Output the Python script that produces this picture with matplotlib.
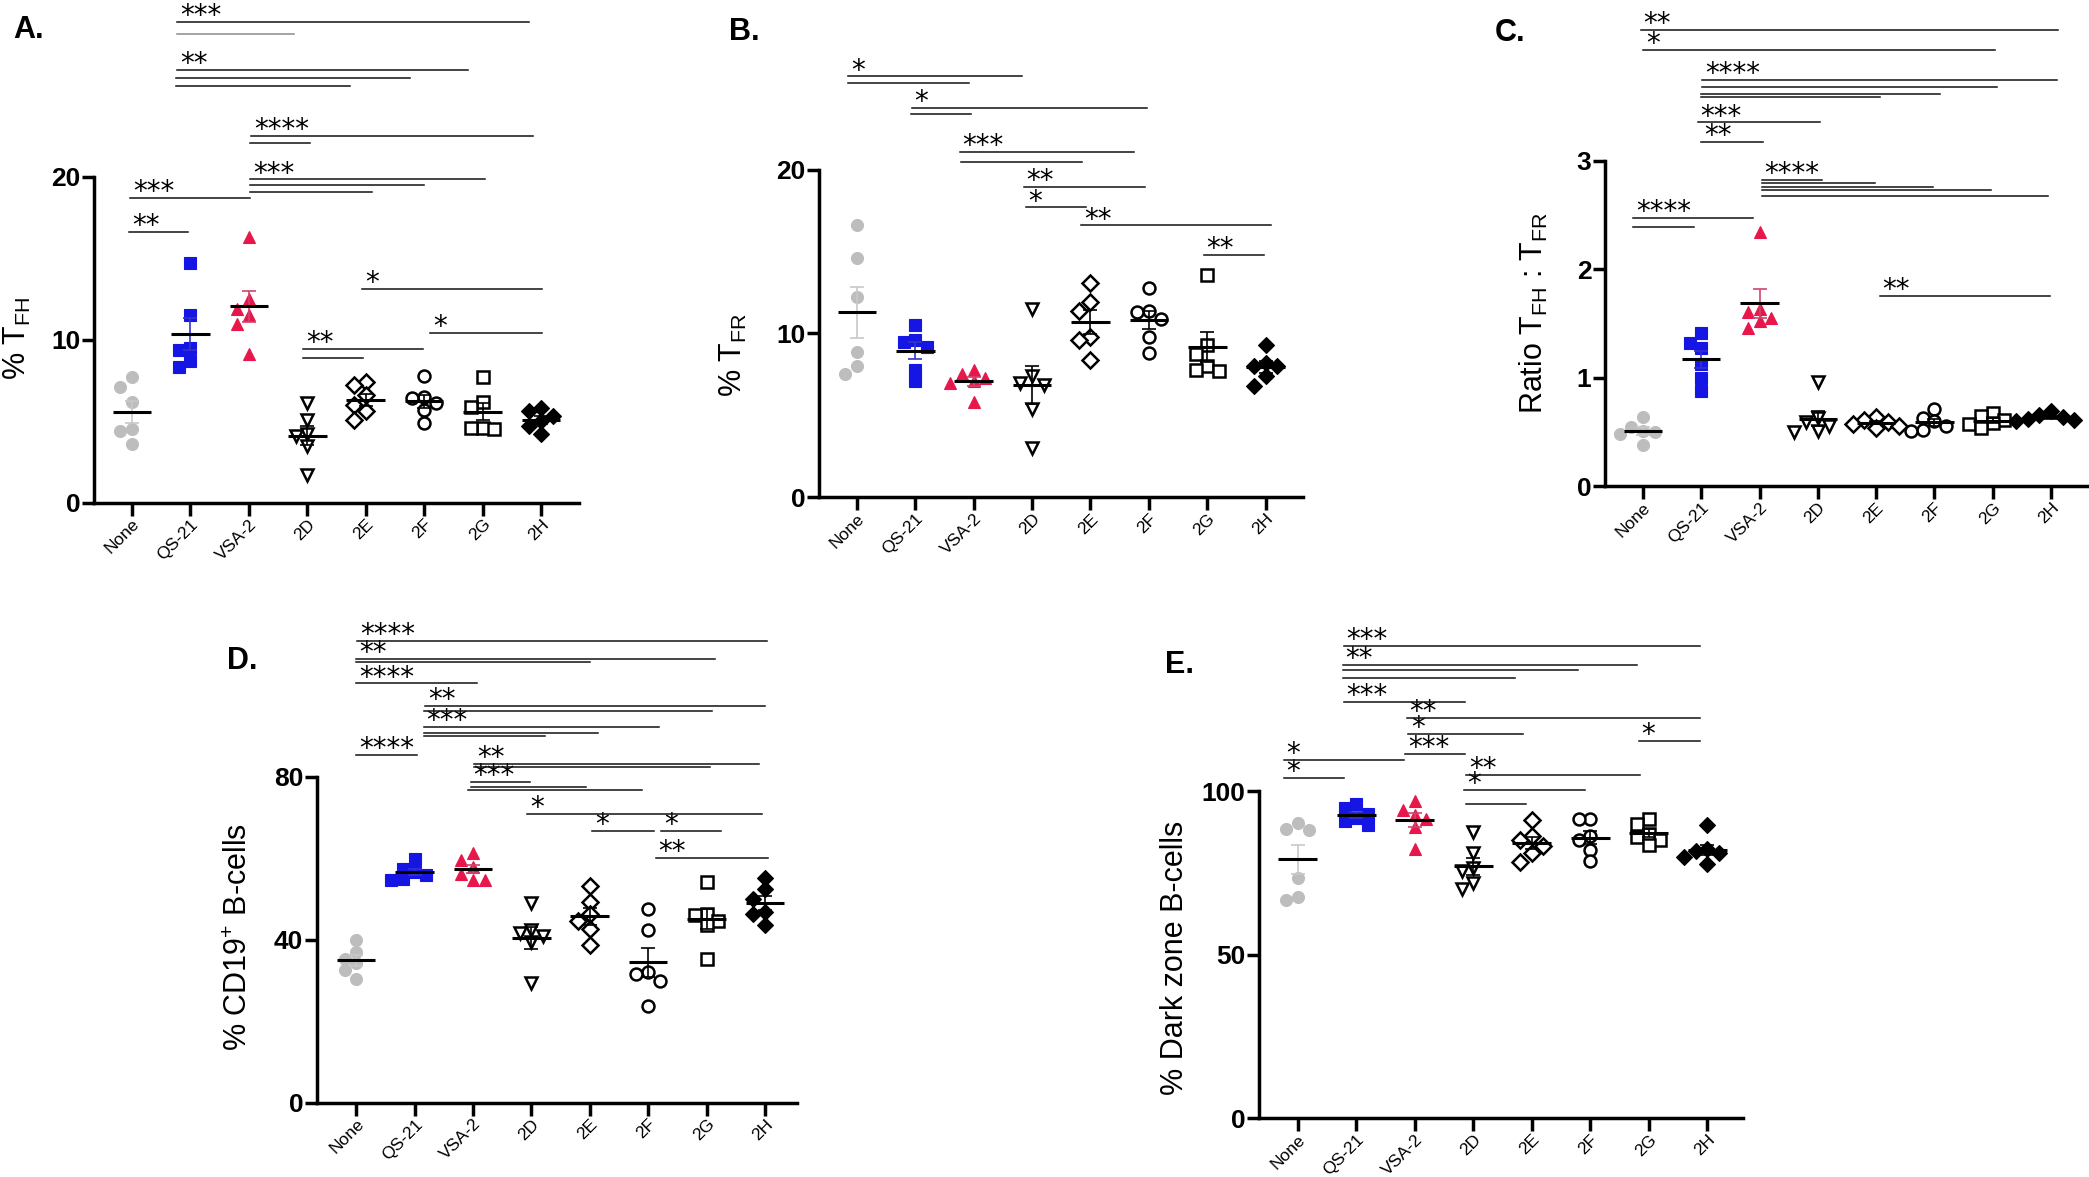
import numpy as np
import matplotlib
matplotlib.use('Agg')
import matplotlib.pyplot as plt

plt.rcParams['font.family'] = ['Liberation Sans', 'DejaVu Sans']
plt.rcParams['mathtext.fontset'] = 'custom'
plt.rcParams['mathtext.rm'] = 'Liberation Sans'
plt.rcParams['mathtext.it'] = 'Liberation Sans:italic'
plt.rcParams['mathtext.bf'] = 'Liberation Sans:bold'

groups = ['None', 'QS-21', 'VSA-2', '2D', '2E', '2F', '2G', '2H']

# valeurs (6 souris par groupe)
tfh_values = [
    [7.7, 7.1, 6.2, 4.5, 4.4, 3.6],
    [14.7, 11.5, 9.5, 9.4, 8.7, 8.3],
    [16.3, 12.5, 11.9, 11.5, 11.0, 9.1],
    [6.1, 5.1, 4.2, 4.1, 3.5, 1.7],
    [7.4, 7.2, 6.6, 6.0, 5.6, 5.1],
    [7.8, 6.5, 6.4, 6.1, 5.7, 4.9],
    [7.7, 6.2, 5.9, 4.6, 4.6, 4.5],
    [5.8, 5.6, 5.3, 5.0, 4.7, 4.2],
]
tfr_values = [
    [16.6, 14.6, 12.2, 8.85, 8.0, 7.5],
    [10.5, 9.6, 9.5, 9.2, 7.8, 7.1],
    [7.8, 7.5, 7.3, 7.1, 7.0, 5.8],
    [11.5, 7.4, 7.0, 6.85, 5.4, 3.0],
    [13.1, 11.9, 11.4, 9.8, 9.6, 8.4],
    [12.8, 11.4, 11.3, 10.9, 9.8, 8.8],
    [13.6, 9.3, 8.75, 8.0, 7.8, 7.7],
    [9.3, 8.2, 8.0, 8.0, 7.4, 6.8],
]
ratio_values = [
    [0.64, 0.55, 0.51, 0.50, 0.48, 0.38],
    [1.41, 1.32, 1.27, 1.13, 1.0, 0.88],
    [2.34, 1.63, 1.61, 1.55, 1.52, 1.46],
    [0.96, 0.63, 0.59, 0.56, 0.51, 0.50],
    [0.64, 0.61, 0.59, 0.57, 0.56, 0.54],
    [0.71, 0.63, 0.60, 0.56, 0.52, 0.51],
    [0.68, 0.65, 0.61, 0.58, 0.57, 0.54],
    [0.69, 0.66, 0.64, 0.62, 0.61, 0.60],
]
cd19_values = [
    [40.0, 37.0, 35.3, 34.4, 32.6, 30.3],
    [59.8, 57.5, 56.6, 55.9, 55.0, 54.8],
    [61.2, 59.5, 58.0, 56.2, 54.8, 54.6],
    [49.0, 42.3, 41.6, 40.9, 39.5, 29.3],
    [53.3, 49.2, 46.4, 44.6, 42.7, 38.6],
    [47.5, 42.3, 32.1, 31.6, 29.8, 23.8],
    [54.3, 46.4, 46.0, 44.6, 43.7, 35.3],
    [55.2, 52.4, 50.1, 46.9, 46.4, 43.6],
]
darkzone_values = [
    [90.4, 88.5, 88.1, 73.5, 67.7, 66.6],
    [96.0, 94.8, 93.1, 91.9, 90.8, 89.6],
    [97.1, 94.2, 92.75, 91.4, 89.1, 82.4],
    [87.4, 81.0, 76.4, 75.5, 71.8, 70.0],
    [91.1, 86.2, 85.0, 83.3, 81.2, 78.5],
    [91.6, 91.4, 86.2, 85.0, 82.1, 78.7],
    [91.4, 90.0, 87.0, 85.9, 85.0, 83.5],
    [89.6, 82.4, 81.6, 81.0, 79.9, 77.8],
]

# barres de significativite : (debut, fin, hauteur, etoiles)
tfh_bars = [
    (0.77, 6.80, 29.5, '***'), (0.77, 2.77, 28.8, ''), (0.77, 5.75, 26.6, '**'),
    (0.75, 4.76, 26.1, ''), (0.75, 3.73, 25.6, ''), (2.04, 6.87, 22.5, '****'),
    (2.02, 3.05, 22.1, ''), (2.02, 6.04, 19.85, '***'), (2.02, 5.0, 19.5, ''),
    (2.02, 4.1, 19.1, ''), (-0.03, 2.02, 18.7, '***'), (-0.05, 0.96, 16.6, '**'),
    (3.94, 7.02, 13.1, '*'), (5.1, 7.02, 10.4, '*'), (2.93, 4.98, 9.43, '**'),
    (2.93, 3.96, 8.9, ''),
]
tfr_bars = [
    (-0.15, 2.83, 25.7, '*'), (-0.15, 1.92, 25.3, ''), (0.94, 4.97, 23.8, '*'),
    (0.92, 1.95, 23.4, ''), (1.76, 4.74, 21.1, '***'), (1.79, 3.85, 20.5, ''),
    (2.86, 4.93, 18.95, '**'), (2.89, 3.92, 17.7, '*'), (3.84, 7.1, 16.6, '**'),
    (5.94, 6.97, 14.8, '**'),
]
ratio_bars = [
    (-0.04, 7.12, 4.20, '**'), (0.0, 6.04, 4.02, '*'), (1.02, 7.1, 3.74, '****'),
    (1.02, 6.07, 3.68, ''), (1.0, 5.09, 3.61, ''), (1.0, 4.06, 3.58, ''),
    (0.94, 3.03, 3.35, '***'), (1.0, 2.06, 3.17, '**'), (2.04, 3.08, 2.82, '****'),
    (2.04, 3.99, 2.79, ''), (2.04, 4.98, 2.76, ''), (2.04, 5.98, 2.73, ''),
    (2.04, 6.95, 2.67, ''), (-0.17, 1.89, 2.47, '****'), (-0.17, 0.87, 2.39, ''),
    (4.06, 6.98, 1.75, '**'),
]
cd19_bars = [
    (0.02, 7.04, 113.4, '****'), (0.0, 6.15, 109.1, '**'), (0.0, 4.01, 108.3, ''),
    (0.0, 2.07, 103.0, '****'), (1.18, 7.0, 97.4, '**'), (1.16, 6.1, 96.1, ''),
    (1.16, 5.18, 92.4, '***'), (1.16, 4.14, 90.7, ''), (1.16, 3.24, 90.0, ''),
    (0.0, 1.04, 85.5, '****'), (2.02, 6.9, 83.2, '**'), (2.02, 6.06, 82.5, ''),
    (1.96, 2.98, 78.7, '***'), (1.96, 3.94, 77.6, ''), (1.92, 4.89, 76.7, ''),
    (2.93, 6.95, 70.9, '*'), (4.04, 5.1, 66.7, '*'), (5.22, 6.25, 66.7, '*'),
    (5.13, 7.06, 60.0, '**'),
]
darkzone_bars = [
    (0.79, 6.87, 144.6, '***'), (0.77, 5.8, 138.8, '**'), (0.77, 4.79, 137.2, ''),
    (0.77, 3.71, 134.6, ''), (0.79, 2.86, 127.3, '***'), (1.86, 6.88, 122.5, '**'),
    (1.89, 3.85, 117.5, '*'), (5.83, 6.87, 115.3, '*'), (1.84, 2.86, 111.3, '***'),
    (-0.24, 1.81, 109.6, '*'), (2.88, 5.85, 105.0, '**'), (-0.24, 0.79, 104.0, '*'),
    (2.85, 4.91, 100.4, '*'), (2.88, 3.91, 96.2, ''),
]

GRAY = '#BDBDBD'
BLUE = '#1616E4'
RED = '#E8174B'
# marqueur, couleur de fond, couleur de bord, couleur barre d'erreur
styles = [
    ('o', GRAY, GRAY, '#C8C8C8'),
    ('s', BLUE, BLUE, '#3434C8'),
    ('^', RED, RED, '#D0456C'),
    ('v', 'white', 'black', 'black'),
    ('D', 'white', 'black', 'black'),
    ('o', 'white', 'black', 'black'),
    ('s', 'white', 'black', 'black'),
    ('D', 'black', 'black', 'black'),
]

W, H = 2089, 1177


def swarm(vals, px_per_unit, px_per_group, diam=10.0, step=0.2):
    vals = np.asarray(vals, dtype=float)
    offs = np.zeros(len(vals))
    placed = []
    for idx in np.argsort(-vals):
        for k in [0, -1, 1, -2, 2, -3, 3]:
            dx = k * step
            ok = True
            for ox, oy in placed:
                if np.hypot((dx - ox) * px_per_group, (vals[idx] - oy) * px_per_unit) < diam:
                    ok = False
                    break
            if ok:
                break
        offs[idx] = dx
        placed.append((dx, vals[idx]))
    return offs


def panel(fig, box, xlim, ymax, yticks, values, bars, ylabel, label_xy, letter, letter_pos):
    left, top, right, bottom = box
    ax = fig.add_axes([left / W, 1 - bottom / H, (right - left) / W, (bottom - top) / H])
    ax.set_xlim(*xlim)
    ax.set_ylim(0, ymax)
    px_unit = (bottom - top) / ymax
    px_group = (right - left) / (xlim[1] - xlim[0])

    for i, vals in enumerate(values):
        mk, fc, ec, errc = styles[i]
        offs = swarm(vals, px_unit, px_group)
        ms = 8.4 if mk == 'D' else 8.6
        ax.plot(i + offs, vals, linestyle='none', marker=mk, ms=ms, mfc=fc, mec=ec,
                mew=1.8 if fc == 'white' else 0.8, zorder=3, clip_on=False)
        m = np.mean(vals)
        sem = np.std(vals, ddof=1) / np.sqrt(len(vals))
        ax.plot([i - 0.33, i + 0.33], [m, m], color='black', lw=2.2, zorder=5,
                solid_capstyle='butt')
        ax.errorbar(i, m, yerr=sem, color=errc, lw=1.2, capsize=5, capthick=1.2,
                    zorder=4, fmt='none')

    for x0, x1, y, stars in bars:
        col = '#8c8c8c' if (x0, x1, y) == (0.77, 2.77, 28.8) else '#111111'
        ax.plot([x0, x1], [y, y], color=col, lw=1.1, clip_on=False, zorder=6)
        if stars:
            ax.annotate(stars, (x0, y), xytext=(2, -1.5), textcoords='offset points',
                        ha='left', va='baseline', fontsize=20, family='DejaVu Sans',
                        annotation_clip=False)

    for side in ['top', 'right']:
        ax.spines[side].set_visible(False)
    for side in ['left', 'bottom']:
        ax.spines[side].set_linewidth(2.5)
    ax.set_yticks(yticks)
    ax.set_yticklabels([str(t) for t in yticks], fontsize=19, fontweight='bold')
    ax.set_xticks(range(len(groups)))
    ax.set_xticklabels(groups, fontsize=12.5, rotation=45, ha='right', rotation_mode='anchor')
    ax.tick_params(axis='y', length=8.5, width=2.5, pad=1)
    ax.tick_params(axis='x', length=9.5, width=2.5, pad=0.5)
    ax.set_ylabel(ylabel, fontsize=22)
    ax.yaxis.set_label_coords(*label_xy)
    fig.text(letter_pos[0] / W, 1 - letter_pos[1] / H, letter, fontsize=22,
             fontweight='bold', ha='left', va='baseline')
    return ax


fig = plt.figure(figsize=(W / 100, H / 100), dpi=100)

panel(fig, (94, 177, 579, 502.6), (-0.65, 7.65), 20, [0, 10, 20], tfh_values, tfh_bars,
      '% T$_{\\mathrm{FH}}$', (-0.126, 0.505), 'A.', (13, 37.7))
panel(fig, (819, 169.8, 1303, 497.2), (-0.65, 7.64), 20, [0, 10, 20], tfr_values, tfr_bars,
      '% T$_{\\mathrm{FR}}$', (-0.145, 0.435), 'B.', (729, 39.5))
panel(fig, (1604.5, 160.5, 2087, 486.4), (-0.66, 7.62), 3, [0, 1, 2, 3], ratio_values, ratio_bars,
      'Ratio T$_{\\mathrm{FH}}$ : T$_{\\mathrm{FR}}$', (-0.112, 0.532), 'C.', (1495, 41.3))
panel(fig, (316.5, 777, 797, 1102.5), (-0.68, 7.55), 80, [0, 40, 80], cd19_values, cd19_bars,
      '% CD19$^{+}$ B-cells', (-0.13, 0.51), 'D.', (227, 669))
panel(fig, (1258.5, 791.3, 1743, 1118), (-0.67, 7.61), 100, [0, 50, 100], darkzone_values,
      darkzone_bars, '% Dark zone B-cells', (-0.141, 0.49), 'E.', (1165, 672.8))

fig.savefig('out.png', dpi=100, facecolor='white')
